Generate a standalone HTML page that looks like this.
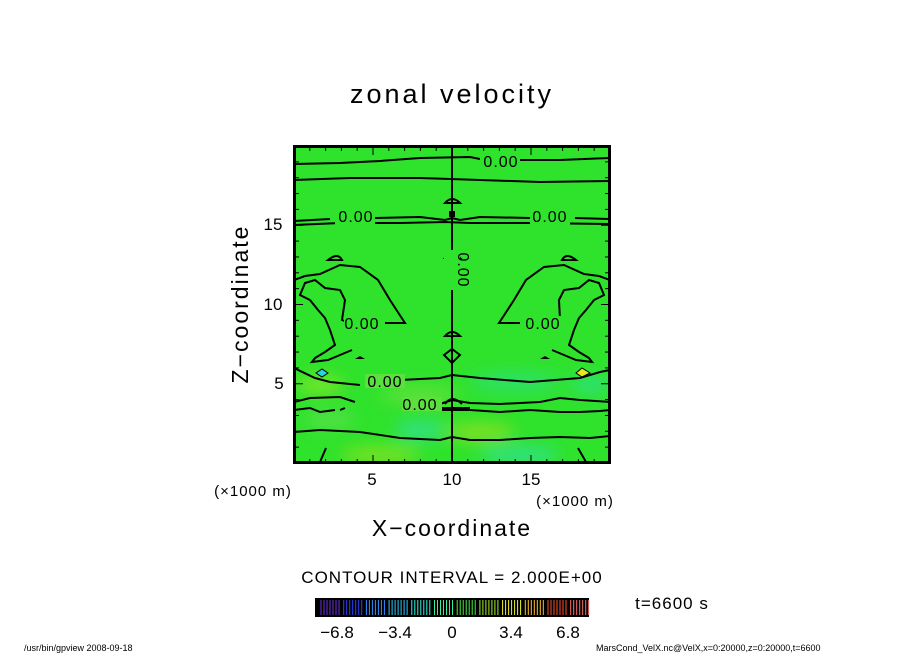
<!DOCTYPE html>
<html><head><meta charset="utf-8"><style>
body{margin:0;background:#fff;width:904px;height:654px;overflow:hidden}
svg{display:block}
text{font-family:"Liberation Sans",sans-serif;fill:#000}
</style></head><body>
<svg id="s" width="904" height="654" viewBox="0 0 904 654" xmlns="http://www.w3.org/2000/svg">
<defs>
<filter id="b" x="-50%" y="-50%" width="200%" height="200%"><feGaussianBlur stdDeviation="8"/></filter>
<clipPath id="c"><rect x="294" y="147" width="315" height="315"/></clipPath>
</defs>
<text x="452" y="103" font-size="27" text-anchor="middle" letter-spacing="3">zonal velocity</text>
<g clip-path="url(#c)">
<rect x="294" y="147" width="315" height="315" fill="#2fe22c"/>
<g filter="url(#b)" opacity="0.85">
<ellipse cx="320" cy="385" rx="25" ry="8" fill="#8de62a"/>
<ellipse cx="420" cy="395" rx="40" ry="8" fill="#70e040"/>
<ellipse cx="515" cy="382" rx="45" ry="9" fill="#2ee07a"/>
<ellipse cx="590" cy="385" rx="20" ry="8" fill="#2ee090"/>
<ellipse cx="420" cy="430" rx="25" ry="10" fill="#30e090"/>
<ellipse cx="480" cy="432" rx="35" ry="9" fill="#90e020"/>
<ellipse cx="380" cy="455" rx="40" ry="8" fill="#90e020"/>
<ellipse cx="520" cy="455" rx="40" ry="8" fill="#30e0a0"/>
<ellipse cx="330" cy="420" rx="25" ry="8" fill="#60e050"/>
</g>
<g fill="none" stroke="#000" stroke-width="2">
<path d="M294 164 L340 163 L380 161 L420 158 L470 157 L485 160 M512 160 L560 160 L610 158"/>
<path d="M294 180 L350 178 L420 178 L480 180 L540 182 L610 181"/>
<path d="M294 221 L330 219 M375 218 L420 217 L445 220 L452 218 L460 220 L480 217 L530 218 M575 218 L610 219"/>
<path d="M294 225 L340 223 L400 223 L445 222 L470 223 L530 223 L610 224"/>
<path d="M452 147 V462"/>
<path d="M445 203 Q452 195 460 203 Z M445 258 Q452 250 460 258 Z M445 336 Q452 328 460 336 Z M444 355 L452 349 L460 355 L452 363 Z"/>
<path d="M294 280 L305 276 L320 274 L340 265 L360 267 L378 280 L390 300 L403 320 L405 323 L385 323 M350 323 L342 320 L345 300 L340 290 L325 288 L315 280 L305 283 L300 295 L310 300 L318 310 L325 318 L330 330 L335 345 L325 352 L315 358 L312 362 L328 360 L340 355 L352 350"/>
<path d="M610 280 L599 276 L584 274 L564 265 L544 267 L526 280 L514 300 L501 320 L499 323 L520 323 M555 323 L560 320 L559 300 L564 290 L579 288 L589 280 L599 283 L604 295 L594 300 L586 310 L579 318 L574 330 L569 345 L579 352 L589 358 L592 362 L576 360 L564 355 L552 350"/>
<path d="M328 260 Q338 252 342 260 Z M576 260 Q566 252 562 260 Z"/>
<path d="M294 368 L315 378 L330 382 L360 385 M400 380 L440 378 L452 375 L480 378 L530 382 L580 378 L600 372 L610 370"/>
<path d="M294 402 L310 398 L340 397 L355 402 M345 408 L340 410 M440 404 L452 400 L470 403 L500 404 L540 402 L560 398 L580 400 L610 402"/>
<path d="M294 410 L310 408 L320 412 L335 410 M440 410 L470 410 L500 412 L530 410 L560 412 L580 412 L600 411 L610 410"/>
<path d="M294 432 L320 430 L360 432 L400 438 L440 440 L452 437 L470 440 L500 440 L530 438 L560 437 L590 438 L610 436"/>
<path d="M320 462 L326 448 M586 462 L578 448"/>
<path d="M445 404 Q452 394 462 404 M436 408 L470 408"/>
</g>
<path d="M316 373 L322 369 L328 373 L322 377 Z" fill="#20d8e0" stroke="#000" stroke-width="1"/>
<path d="M576 373 L582 368 L590 373 L582 377 Z" fill="#e8e820" stroke="#000" stroke-width="1"/>
<path d="M355 359 L365 359 L360 356 Z M540 359 L550 359 L545 356 Z" fill="#000"/>
<rect x="449" y="211" width="6" height="6" fill="#000"/>
<g font-size="16" text-anchor="middle" letter-spacing="1">
<rect x="480" y="153" width="40" height="16" fill="#2fe22c"/><text x="501" y="167">0.00</text>
<rect x="335" y="211" width="40" height="16" fill="#2fe22c"/><text x="356" y="222">0.00</text>
<rect x="530" y="211" width="40" height="16" fill="#2fe22c"/><text x="550" y="222">0.00</text>
<rect x="344" y="316" width="40" height="14" fill="#2fe22c"/><text x="362" y="329">0.00</text>
<rect x="523" y="316" width="40" height="14" fill="#2fe22c"/><text x="543" y="329">0.00</text>
<rect x="365" y="374" width="40" height="14" fill="#5ce040"/><text x="385" y="387">0.00</text>
<rect x="402" y="397" width="40" height="14" fill="#5ce040"/><text x="420" y="410">0.00</text>
<rect x="444" y="250" width="16" height="40" fill="#2fe22c"/><text transform="translate(458,270) rotate(90)">0.00</text>
</g>
</g>
<rect x="294.5" y="146.5" width="315" height="316" fill="none" stroke="#000" stroke-width="3"/>
<g id="ticks" stroke="#000" stroke-width="1"></g>
<g font-size="17" text-anchor="middle">
<text x="372" y="485">5</text><text x="452" y="485">10</text><text x="531" y="485">15</text>
<text x="273" y="230">15</text><text x="273" y="310">10</text><text x="279" y="389">5</text>
</g>
<text x="253" y="496" font-size="15" text-anchor="middle" letter-spacing="1">(×1000 m)</text>
<text x="575" y="506" font-size="15" text-anchor="middle" letter-spacing="1">(×1000 m)</text>
<text x="452" y="536" font-size="23" text-anchor="middle" letter-spacing="2">X−coordinate</text>
<text transform="translate(248,304) rotate(-90)" font-size="23" text-anchor="middle" letter-spacing="2">Z−coordinate</text>
<text x="452" y="583" font-size="17" text-anchor="middle" letter-spacing="1">CONTOUR INTERVAL = 2.000E+00</text>
<rect x="315" y="598" width="274" height="19" fill="#000"/>
<g id="cb"></g>
<g font-size="17" text-anchor="middle">
<text x="337" y="638">−6.8</text><text x="395" y="638">−3.4</text><text x="452" y="638">0</text><text x="511" y="638">3.4</text><text x="568" y="638">6.8</text>
</g>
<text x="672" y="609" font-size="17" text-anchor="middle" letter-spacing="1">t=6600 s</text>
<text x="24" y="651" font-size="9">/usr/bin/gpview  2008-09-18</text>
<text x="596" y="651" font-size="9">MarsCond_VelX.nc@VelX,x=0:20000,z=0:20000,t=6600</text>
</svg>
<script>
var ns="http://www.w3.org/2000/svg";
var t=document.getElementById("ticks");
function ln(g,x1,y1,x2,y2,c,w){var l=document.createElementNS(ns,"line");l.setAttribute("x1",x1);l.setAttribute("y1",y1);l.setAttribute("x2",x2);l.setAttribute("y2",y2);l.setAttribute("stroke",c);l.setAttribute("stroke-width",w);g.appendChild(l);}
for(var i=1;i<20;i++){var x=294+i*15.8,y=463-i*15.85,L=(i%5==0)?8:4;
ln(t,x,463,x,463-L,"#000",1);ln(t,x,147,x,147+L,"#000",1);
ln(t,295,y,295+L,y,"#000",1);ln(t,609,y,609-L,y,"#000",1);}
var cb=document.getElementById("cb");
var cols=["#7030e0","#3040ff","#3090ff","#30c8ff","#30f0e0","#30f0a0","#40f040","#a0f030","#f0f030","#ffc030","#ff5030","#ff7070"];
for(var g=0;g<12;g++){for(var k=0;k<7;k++){var x=321+g*22.7+k*3;ln(cb,x,600,x,615,cols[g],1);}}
</script>
</body></html>
